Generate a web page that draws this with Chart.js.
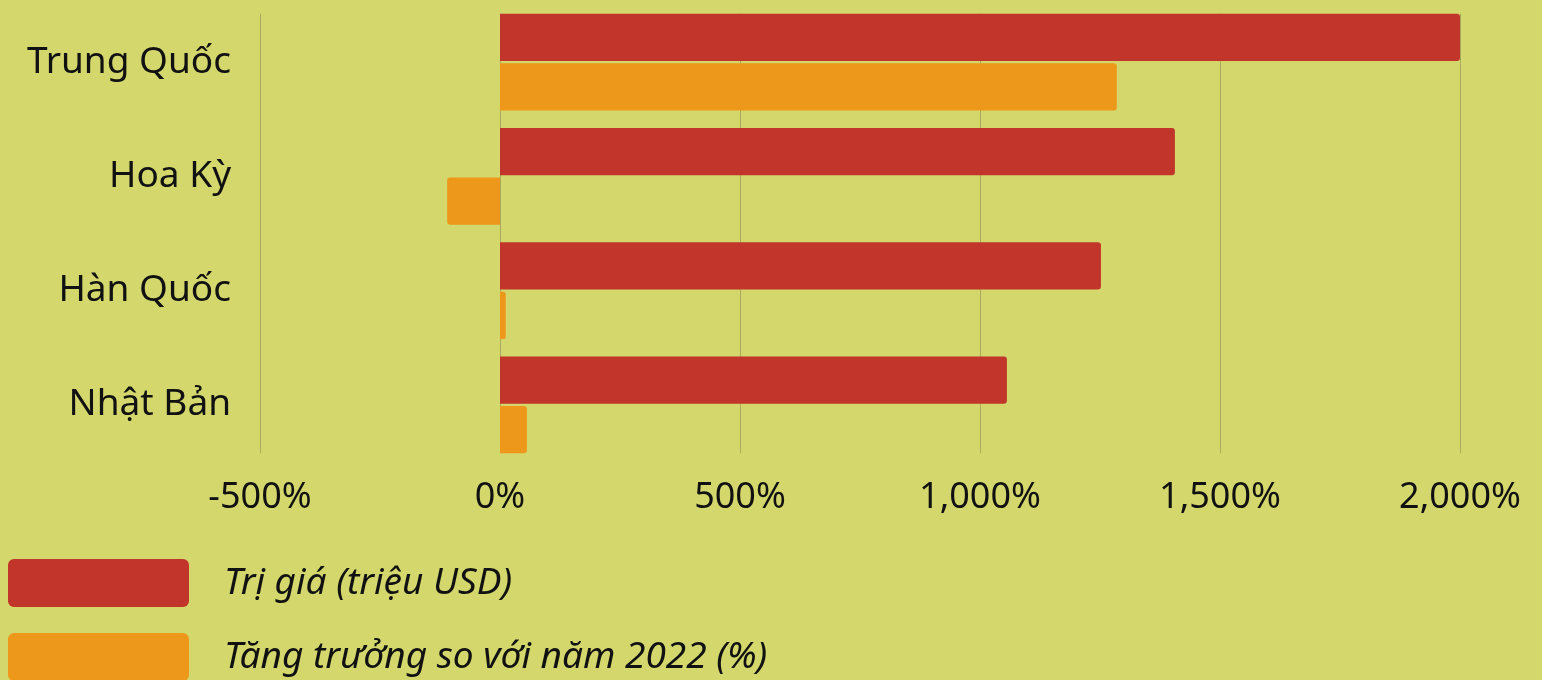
<!DOCTYPE html>
<html>
<head>
<meta charset="utf-8">
<script src="https://cdn.jsdelivr.net/npm/chart.js@4.4.1/dist/chart.umd.min.js"></script>
<style>
  html, body { margin: 0; padding: 0; background: #d3d76c; }
  #wrap { width: 1542px; height: 680px; }
</style>
</head>
<body>
<div id="wrap"><canvas id="chart"></canvas></div>
<script>
const countries = ['Trung Quốc', 'Hoa Kỳ', 'Hàn Quốc', 'Nhật Bản'];
const triGia = [2000, 1406, 1252, 1056];
const tangTruong = [1285, -110, 12, 56];
const seriesNames = ['Trị giá (triệu USD)', 'Tăng trưởng so với năm 2022 (%)'];
const xTicks = [-500, 0, 500, 1000, 1500, 2000];

const FONT = '"Noto Sans", "Open Sans", sans-serif';
const INK = '#111111';

// grid lines only span from the first bar to the last bar
const gridPlugin = {
    id: 'shortGrid',
    beforeDatasetsDraw(chart) {
        const ctx = chart.ctx;
        const x = chart.scales.x;
        const first = chart.getDatasetMeta(0).data[0];
        const lastMeta = chart.getDatasetMeta(chart.data.datasets.length - 1);
        const last = lastMeta.data[lastMeta.data.length - 1];
        const top = first.y - first.height / 2;
        const bottom = last.y + last.height / 2;
        ctx.save();
        ctx.strokeStyle = '#a8aa5c';
        ctx.lineWidth = 1;
        xTicks.forEach(v => {
            const px = Math.round(x.getPixelForValue(v)) + 0.5;
            ctx.beginPath();
            ctx.moveTo(px, top);
            ctx.lineTo(px, bottom);
            ctx.stroke();
        });
        ctx.restore();
    }
};

// legend drawn in rows, left aligned, under the axis
const legendPlugin = {
    id: 'rowLegend',
    afterDraw(chart) {
        const ctx = chart.ctx;
        ctx.save();
        ctx.font = 'italic 37px ' + FONT;
        ctx.textBaseline = 'alphabetic';
        ctx.textAlign = 'left';
        chart.data.datasets.forEach((ds, i) => {
            const top = 559 + i * 74;
            ctx.fillStyle = ds.backgroundColor;
            ctx.beginPath();
            ctx.roundRect(8, top, 181, 48, 6);
            ctx.fill();
            ctx.fillStyle = INK;
            ctx.fillText(ds.label, 224, top + 35);
        });
        ctx.restore();
    }
};

new Chart(document.getElementById('chart'), {
    type: 'bar',
    data: {
        labels: countries,
        datasets: [{
            label: seriesNames[0],
            data: triGia,
            backgroundColor: '#c1352a',
            borderRadius: 3,
            categoryPercentage: 0.865,
            barPercentage: 0.959
        }, {
            label: seriesNames[1],
            data: tangTruong,
            backgroundColor: '#ee981b',
            borderRadius: 3,
            categoryPercentage: 0.865,
            barPercentage: 0.959
        }]
    },
    options: {
        indexAxis: 'y',
        responsive: true,
        maintainAspectRatio: false,
        animation: false,
        layout: {
            padding: { left: 0, right: 82, top: 5, bottom: 158 }
        },
        plugins: {
            legend: { display: false },
            tooltip: { enabled: false }
        },
        scales: {
            x: {
                min: -500,
                max: 2000,
                afterBuildTicks: scale => {
                    scale.ticks = xTicks.map(v => ({ value: v }));
                },
                afterFit: scale => { scale.height = 60; },
                grid: { display: false, drawTicks: false },
                border: { display: false },
                ticks: {
                    color: INK,
                    padding: 14,
                    maxRotation: 0,
                    font: { family: FONT, size: 36 },
                    callback: function(value) {
                        return value.toLocaleString('en-US') + '%';
                    }
                }
            },
            y: {
                afterFit: scale => {
                    scale.width = 260;
                    scale.paddingTop = 0;
                    scale.paddingBottom = 0;
                },
                grid: { display: false, drawTicks: false },
                border: { display: false },
                ticks: {
                    color: INK,
                    padding: 29,
                    font: { family: FONT, size: 37 }
                }
            }
        }
    },
    plugins: [gridPlugin, legendPlugin]
});
</script>
</body>
</html>
